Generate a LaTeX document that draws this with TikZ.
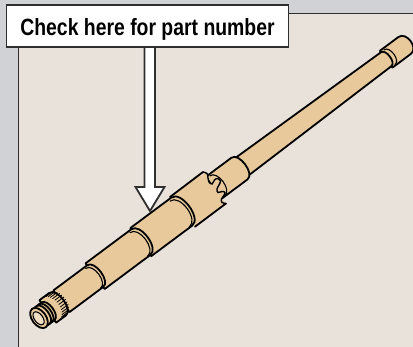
\documentclass[tikz,border=0pt]{standalone}
\usepackage{fontspec}
\setmainfont{Liberation Sans}[FakeStretch=0.825]
\definecolor{pagegray}{HTML}{D0D2D5}
\definecolor{panelbeige}{HTML}{E9E2DB}
\definecolor{shafttan}{HTML}{E8C99C}
\definecolor{edgegray}{HTML}{2F2F2F}

% one turned length of the shaft: start, end, radius at start, radius at end
\newcommand{\shaftpiece}[4]{%
  \filldraw[shaft] (#1,-#3) -- (#2,-#4)
    .. controls (#2+0.7*#4,-#4) and (#2+0.7*#4,#4) .. (#2,#4)
    -- (#1,#3) -- cycle;}
% thin second line beside a step
\newcommand{\shaftring}[2]{%
  \draw[shaftline] (#1,-#2*0.88) .. controls (#1+0.7*#2,-#2*0.88) and (#1+0.7*#2,#2*0.96) .. (#1,#2*0.96);}

\begin{document}
\begin{tikzpicture}[
    x=1pt,y=-1pt,
    panel/.style={draw=edgegray,line width=1.3pt,fill=panelbeige},
    labelbox/.style={draw=edgegray,line width=1.7pt,fill=white,font=\bfseries\fontsize{23.5}{24}\selectfont,
                     minimum width=282pt,minimum height=42pt,inner sep=0pt,text height=21pt,text depth=1pt},
    pointer/.style={draw=edgegray,line width=1.8pt,fill=white,miter limit=10},
    shaft/.style={draw=black,line width=1.8pt,fill=shafttan,line join=round},
    shaftline/.style={draw=black,line width=1.1pt,line cap=round},
    along shaft/.style={shift={(39,318)},rotate=36.7}
  ]
    \useasboundingbox (0,0) rectangle (413,347);
    \fill[pagegray] (0,0) rectangle (413,347);
    \draw[panel] (18.5,13.5) -- (415,13.5) -- (415,349) -- (18.5,349) -- cycle;

    % shaft, drawn from the far end to the near end
    \begin{scope}[along shaft]
      \filldraw[shaft] (433,-10.5) -- (456,-10.5)
        .. controls (466,-10.5) and (466,10.5) .. (456,10.5) -- (433,10.5) -- cycle;
      \shaftpiece{250}{433}{11}{8.7}
      \shaftring{437}{10}
      \shaftpiece{218}{250}{13.5}{13.5}
      \shaftring{222}{13.5}
    \end{scope}

    % notched end of the wide collar
    \fill[shafttan] (170,197) -- (199.3,173.3) -- (226,203.5) -- (195,226.7) -- cycle;
    \fill[shafttan] plot[smooth,tension=.6] coordinates {(203,172) (207,173.5) (208,178) (209,182) (212,184)
      (214.5,180) (217.5,178.5) (220.5,181) (219,185) (217,189) (218,192.5) (222,191.5) (225,192.5)
      (223.5,196) (221.5,199) (222,202.5) (226,203.5)} -- (200,190) -- cycle;
    \draw[shaftline,line width=1.8pt] (170,197) -- (203,172) (226,203.5) -- (195,226.7);
    \draw[shaftline,line width=1.4pt] plot[smooth,tension=.6] coordinates {(203,172) (207,173.5) (208,178) (209,182) (212,184)
      (214.5,180) (217.5,178.5) (220.5,181) (219,185) (217,189) (218,192.5) (222,191.5) (225,192.5)
      (223.5,196) (221.5,199) (222,202.5) (226,203.5)};

    \begin{scope}[along shaft]
      \shaftpiece{127}{178}{17.5}{17.5}
      \shaftring{175}{17.5}
      \shaftpiece{70}{127}{16}{16}
      \shaftring{124}{16}
      \shaftpiece{28}{70}{13.5}{13.5}
      \shaftring{67}{13.5}
      % knurled length
      \shaftpiece{11}{23}{14}{14}
      \foreach \ang in {-80,-68,...,80} {
        \draw[shaftline,line width=0.8pt] ({15+9*cos(\ang)},{14*sin(\ang)}) -- ({23+9.5*cos(\ang)},{14*sin(\ang)});
      }
      % grooved neck and end face
      \shaftpiece{8}{11}{11}{11}
      \shaftpiece{5}{8}{11}{11}
      \shaftpiece{2}{5}{11}{11}
      \filldraw[shaft] (0,0) ellipse [x radius=7,y radius=11.5];
      \filldraw[shaft,line width=1.1pt,fill=shafttan!60!white] (-0.5,0) ellipse [x radius=4.2,y radius=7.5];
    \end{scope}

    \draw[pointer] (144.5,40) -- (144.5,187) -- (135.5,187) -- (150,211) -- (164.5,187) -- (155,187) -- (155,40);
    \node[labelbox] (partlabel) at (147.5,26) {Check here for part number\hspace{5pt}};
\end{tikzpicture}
\end{document}
